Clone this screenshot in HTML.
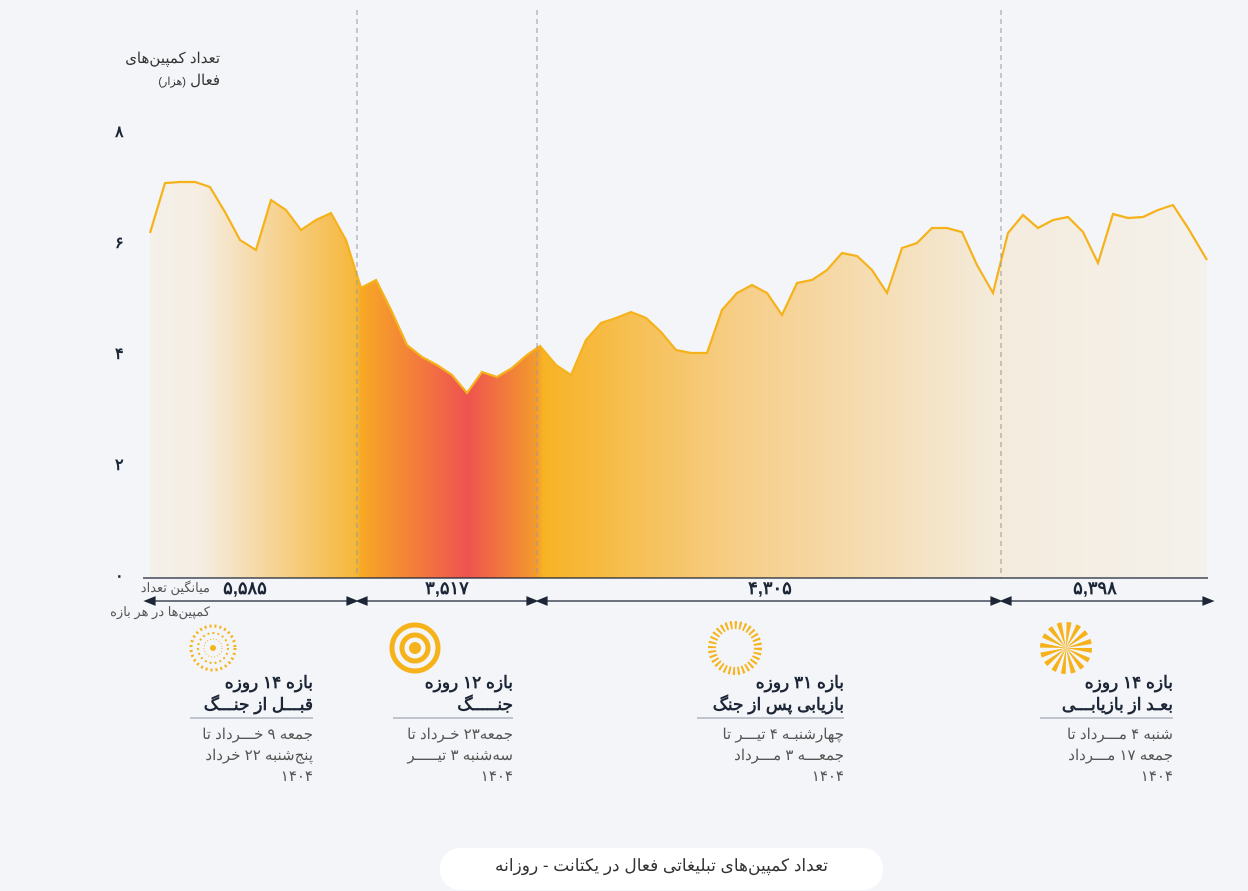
<!DOCTYPE html>
<html><head><meta charset="utf-8"><style>
body{margin:0;background:#f4f5f8;width:1248px;height:891px;overflow:hidden;font-family:"Liberation Sans","Noto Sans CJK SC",sans-serif;}
.t{position:absolute;direction:rtl;text-align:right;color:#1c2637}
</style></head><body>
<svg width="1248" height="891" style="position:absolute;left:0;top:0">
<defs>
<linearGradient id="g" x1="150" x2="1208" y1="0" y2="0" gradientUnits="userSpaceOnUse">
<stop offset="0" stop-color="#f4f0ea"/>
<stop offset="0.05" stop-color="#f5ede2"/>
<stop offset="0.195" stop-color="#f6b63a"/>
<stop offset="0.2" stop-color="#f7a825"/>
<stop offset="0.3" stop-color="#ef5350"/>
<stop offset="0.365" stop-color="#f39a2c"/>
<stop offset="0.372" stop-color="#f7b325"/>
<stop offset="0.55" stop-color="#f6cd85"/>
<stop offset="0.8" stop-color="#f4ebdc"/>
<stop offset="1" stop-color="#f4f1ec"/>
</linearGradient>
</defs>
<path fill="url(#g)" d="M150,578 L150,233 165,183 180,182 195,182 210,187 225,212 240,240 256,250 271,200 286,210 301,230 316,220 331,213 346,240 361,288 376,280 391,310 407,345 422,357 437,365 452,375 467,393 482,372 497,377 512,368 527,355 540,346 556,365 571,375 586,340 601,323 616,318 631,312 646,318 661,332 676,350 691,353 707,353 722,310 737,293 752,285 767,293 782,315 797,283 812,280 827,270 842,253 857,256 872,270 887,293 902,248 917,243 932,228 947,228 962,232 977,265 993,293 1008,233 1023,215 1038,228 1053,220 1068,217 1083,232 1098,263 1113,214 1128,218 1143,217 1158,210 1173,205 1188,228 1207,260 L1207,578 Z"/>
<polyline fill="none" stroke="#f5b21b" stroke-width="2.2" points="150,233 165,183 180,182 195,182 210,187 225,212 240,240 256,250 271,200 286,210 301,230 316,220 331,213 346,240 361,288 376,280 391,310 407,345 422,357 437,365 452,375 467,393 482,372 497,377 512,368 527,355 540,346 556,365 571,375 586,340 601,323 616,318 631,312 646,318 661,332 676,350 691,353 707,353 722,310 737,293 752,285 767,293 782,315 797,283 812,280 827,270 842,253 857,256 872,270 887,293 902,248 917,243 932,228 947,228 962,232 977,265 993,293 1008,233 1023,215 1038,228 1053,220 1068,217 1083,232 1098,263 1113,214 1128,218 1143,217 1158,210 1173,205 1188,228 1207,260"/>
<g stroke="#999" stroke-dasharray="5,4" stroke-width="1"><line x1="357" y1="10" x2="357" y2="578"/><line x1="537" y1="10" x2="537" y2="578"/><line x1="1001" y1="10" x2="1001" y2="578"/></g>
<line x1="143" y1="578" x2="1208" y2="578" stroke="#1c2637" stroke-width="1.2"/>
<g stroke="#1c2637" stroke-width="1.2" fill="#1c2637">
<line x1="150" y1="601" x2="352" y2="601"/><path d="M145,601 l10,-4 v8z M357,601 l-10,-4 v8z"/>
<line x1="362" y1="601" x2="532" y2="601"/><path d="M357,601 l10,-4 v8z M537,601 l-10,-4 v8z"/>
<line x1="542" y1="601" x2="996" y2="601"/><path d="M537,601 l10,-4 v8z M1001,601 l-10,-4 v8z"/>
<line x1="1006" y1="601" x2="1206" y2="601"/><path d="M1001,601 l10,-4 v8z M1213,601 l-10,-4 v8z"/>
</g>
<g fill="#f5b21b">
<circle cx="213" cy="648" r="3"/>
</g>
<g fill="none" stroke="#f5b21b" stroke-width="3" stroke-dasharray="2,3"><circle cx="213" cy="648" r="22"/><circle cx="213" cy="648" r="15" stroke-width="2"/><circle cx="213" cy="648" r="9" stroke-width="1" stroke-dasharray="1,2"/></g>
<circle cx="415" cy="648" r="23" fill="none" stroke="#f5b21b" stroke-width="5"/><circle cx="415" cy="648" r="13" fill="none" stroke="#f5b21b" stroke-width="5"/><circle cx="415" cy="648" r="6" fill="#f5b21b"/>
<circle cx="735" cy="648" r="23" fill="none" stroke="#f5b21b" stroke-width="8" stroke-dasharray="2,2.5"/>
<circle cx="1066" cy="648" r="13" fill="none" stroke="#f5b21b" stroke-width="26" stroke-dasharray="2.5,2.6"/>
<line x1="190" y1="718" x2="313" y2="718" stroke="#8a93a2"/>
<line x1="393" y1="718" x2="513" y2="718" stroke="#8a93a2"/>
<line x1="697" y1="718" x2="844" y2="718" stroke="#8a93a2"/>
<line x1="1040" y1="718" x2="1173" y2="718" stroke="#8a93a2"/>
<rect x="440" y="848" width="443" height="42" rx="20" fill="#fff"/>
</svg>
<div class="t" style="left:60px;top:48px;width:160px;font-size:15px;line-height:22px;color:#333">تعداد کمپین‌های<br>فعال <span style="font-size:11px">(هزار)</span></div>
<div style="position:absolute;left:115px;top:122px;font-size:16px;font-weight:bold;color:#1c2637;line-height:22px">
<div style="position:absolute;top:0">۸</div><div style="position:absolute;top:111px">۶</div><div style="position:absolute;top:222px">۴</div><div style="position:absolute;top:333px">۲</div><div style="position:absolute;top:444px">۰</div></div>
<div class="t" style="left:110px;top:580px;width:100px;font-size:13px;color:#555">میانگین تعداد</div>
<div class="t" style="left:80px;top:604px;width:130px;font-size:13px;color:#555">کمپین‌ها در هر بازه</div>
<div class="t" style="left:210px;top:578px;width:70px;text-align:center;font-size:18px;font-weight:bold">۵,۵۸۵</div>
<div class="t" style="left:412px;top:578px;width:70px;text-align:center;font-size:18px;font-weight:bold">۳,۵۱۷</div>
<div class="t" style="left:735px;top:578px;width:70px;text-align:center;font-size:18px;font-weight:bold">۴,۳۰۵</div>
<div class="t" style="left:1060px;top:578px;width:70px;text-align:center;font-size:18px;font-weight:bold">۵,۳۹۸</div>
<div class="t" style="left:150px;top:672px;width:163px;font-size:17px;font-weight:bold;line-height:22px">بازه ۱۴ روزه<br>قبـــل از جنـــگ</div>
<div class="t" style="left:150px;top:724px;width:163px;font-size:15px;line-height:21px;color:#555">جمعه ۹ خـــرداد تا<br>پنج‌شنبه ۲۲ خرداد<br>۱۴۰۴</div>
<div class="t" style="left:350px;top:672px;width:163px;font-size:17px;font-weight:bold;line-height:22px">بازه ۱۲ روزه<br>جنـــــگ</div>
<div class="t" style="left:350px;top:724px;width:163px;font-size:15px;line-height:21px;color:#555">جمعه۲۳ خـرداد تا<br>سه‌شنبه ۳ تیـــــر<br>۱۴۰۴</div>
<div class="t" style="left:660px;top:672px;width:184px;font-size:17px;font-weight:bold;line-height:22px">بازه ۳۱ روزه<br>بازیابی پس از جنگ</div>
<div class="t" style="left:660px;top:724px;width:184px;font-size:15px;line-height:21px;color:#555">چهارشنبـه ۴ تیـــر تا<br>جمعـــه ۳ مـــرداد<br>۱۴۰۴</div>
<div class="t" style="left:1000px;top:672px;width:173px;font-size:17px;font-weight:bold;line-height:22px">بازه ۱۴ روزه<br>بعـد از بازیابـــی</div>
<div class="t" style="left:1000px;top:724px;width:173px;font-size:15px;line-height:21px;color:#555">شنبه ۴ مـــرداد تا<br>جمعه ۱۷ مـــرداد<br>۱۴۰۴</div>
<div class="t" style="left:440px;top:856px;width:443px;text-align:center;font-size:17px;color:#333">تعداد کمپین‌های تبلیغاتی فعال در یکتانت - روزانه</div>
</body></html>
